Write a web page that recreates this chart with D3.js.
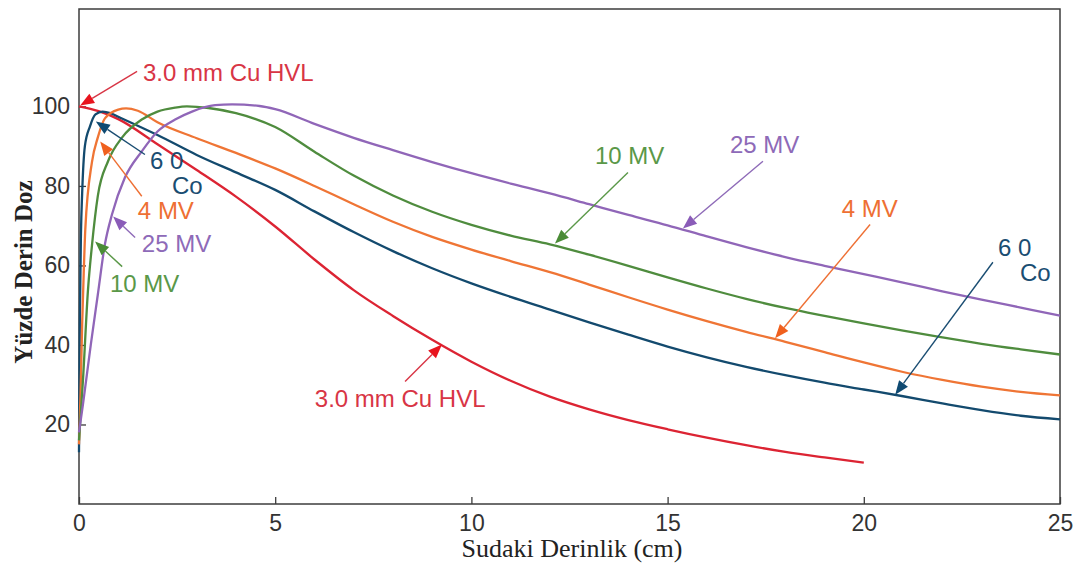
<!DOCTYPE html>
<html>
<head>
<meta charset="utf-8">
<script src="https://cdn.jsdelivr.net/npm/d3@7"></script>
<style>
  body { margin: 0; background: #fff; }
  svg { display: block; }
</style>
</head>
<body>
<svg id="chart"></svg>
<script>
// depth (cm), percent depth dose
const cuHvl = [[0,100],[0.5,98.8],[1,96.8],[2,90.5],[3,84],[4,77.3],[5,69.8],[6,61.5],[7,53.8],[8,47.3],[9,41.3],[10,35.8],[11,31],[12,27],[13,23.8],[14,21.1],[15,18.8],[16,16.7],[17,14.8],[18,13.1],[19,11.7],[20,10.4]];
const cobalt = [[0,13],[0.02,45],[0.05,68],[0.08,78],[0.15,90],[0.28,95],[0.42,98],[0.6,98.7],[0.8,98.3],[1,97.4],[2,92.8],[3,87.8],[4,83.4],[5,79],[6,73.6],[7,68.4],[8,63.6],[9,59.3],[10,55.5],[11,52.1],[12,48.9],[13,45.7],[14,42.6],[15,39.6],[16,36.9],[17,34.5],[18,32.4],[19,30.5],[20,28.8],[21,27.1],[22,25.3],[23,23.6],[24,22.2],[25,21.3]];
const mv4 = [[0,15],[0.04,28],[0.08,45],[0.12,58],[0.16,69],[0.33,86],[0.48,92.2],[0.66,97],[1,99.2],[1.2,99.5],[1.5,98.9],[2,96],[3,92],[4,88.3],[5,84.4],[6,80],[7,75.4],[8,71],[9,67.2],[10,64],[11,61.1],[12,58.3],[13,55.2],[14,52],[15,48.9],[16,46],[17,43.3],[18,40.8],[19,38.2],[20,35.6],[21,33.2],[22,31.2],[23,29.5],[24,28.2],[25,27.3]];
const mv10 = [[0,16],[0.1,31],[0.23,54],[0.33,65],[0.48,77.5],[0.74,86.2],[1.1,92.2],[1.6,96.7],[2,98.7],[2.45,99.7],[2.75,100],[3.3,99.6],[4,98.3],[5,94.8],[6,88.6],[7,82.6],[8,77.6],[9,73.5],[10,70.2],[11,67.5],[12,65.3],[13,62.7],[14,59.9],[15,57],[16,54.2],[17,51.6],[18,49.3],[19,47.3],[20,45.4],[21,43.6],[22,41.9],[23,40.3],[24,38.9],[25,37.6]];
const mv25 = [[0,18],[0.1,25],[0.3,40],[0.48,52.7],[0.66,65.3],[0.84,72.8],[1.17,82.1],[1.6,88.7],[2,93.7],[2.45,96.7],[2.88,98.7],[3.47,100.3],[3.9,100.5],[4.6,100.1],[5,99.3],[6,95.6],[7,92.1],[8,89],[9,86],[10,83.2],[11,80.6],[12,78.1],[13,75.4],[14,72.7],[15,70.1],[16,67.3],[17,64.6],[18,62.1],[19,59.9],[20,57.8],[21,55.7],[22,53.5],[23,51.4],[24,49.4],[25,47.4]];

const depthTicks = [0, 5, 10, 15, 20, 25];
const doseTicks = [20, 40, 60, 80, 100];

const series = [
  {key: "hvl", values: cuHvl},
  {key: "co", values: cobalt},
  {key: "mv4", values: mv4},
  {key: "mv10", values: mv10},
  {key: "mv25", values: mv25}
];

// labels and arrows, placed in data units (depth, dose)
const notes = [
  {key: "hvl", labels: [{t: "3.0 mm Cu HVL", at: [1.63, 106.4]}], tail: [1.48, 108.8], tip: [0.03, 100.2]},
  {key: "co", labels: [{t: "6 0", at: [1.81, 84.2]}, {t: "Co", at: [2.37, 77.9]}], tail: [1.68, 87.9], tip: [0.43, 96.2]},
  {key: "mv4", labels: [{t: "4 MV", at: [1.5, 71.6]}], tail: [1.6, 77.4], tip: [0.54, 91.2]},
  {key: "mv25", labels: [{t: "25 MV", at: [1.6, 63.3]}], tail: [1.43, 67], tip: [0.87, 72.3]},
  {key: "mv10", labels: [{t: "10 MV", at: [0.79, 53.2]}], tail: [1.1, 59.7], tip: [0.41, 66]},
  {key: "mv10", labels: [{t: "10 MV", at: [13.15, 85.4]}], tail: [13.99, 83.4], tip: [12.13, 65.5]},
  {key: "mv25", labels: [{t: "25 MV", at: [16.59, 88.4]}], tail: [17.43, 86.2], tip: [15.39, 69.3]},
  {key: "mv4", labels: [{t: "4 MV", at: [19.44, 72.1]}], tail: [20.16, 70.3], tip: [17.74, 41.7]},
  {key: "co", labels: [{t: "6 0", at: [23.42, 62.3]}, {t: "Co", at: [23.98, 56]}], tail: [23.29, 60.8], tip: [20.8, 27.5]},
  {key: "hvl", labels: [{t: "3.0 mm Cu HVL", at: [6.01, 24.3]}], tail: [8.31, 30.8], tip: [9.25, 40.1]}
];

const lineColor = {hvl: "#dc2433", co: "#134a6e", mv4: "#ef7535", mv10: "#4f8c3e", mv25: "#9066b8"};
const textColor = {hvl: "#d83545", co: "#1a4d72", mv4: "#ee6f33", mv10: "#5a9848", mv25: "#8e6ab8"};
const headColor = {hvl: "#e8141e", co: "#0f4a72", mv4: "#f0601e", mv10: "#4a8c36", mv25: "#8a5cb8"};

const width = 1082, height = 567;
const margin = {left: 79, right: 1060, top: 9, bottom: 504};

const svg = d3.select("#chart")
    .attr("width", width)
    .attr("height", height)
    .style("font-family", "'Liberation Sans', Arial, sans-serif");

svg.append("rect").attr("width", width).attr("height", height).attr("fill", "#fff");

const x = d3.scaleLinear().domain([0, 25]).range([margin.left, margin.right]);
const y = d3.scaleLinear().domain([0, 124.5]).range([margin.bottom, margin.top]);

// frame
svg.append("rect")
    .attr("x", margin.left).attr("y", margin.top)
    .attr("width", margin.right - margin.left).attr("height", margin.bottom - margin.top)
    .attr("fill", "none")
    .attr("stroke", "#3c3c3c")
    .attr("stroke-width", 1.5);

svg.append("g")
    .attr("transform", `translate(0,${margin.bottom})`)
    .call(d3.axisBottom(x).tickValues(depthTicks).tickSizeInner(-7).tickSizeOuter(0).tickPadding(11))
    .call(g => g.select(".domain").remove())
    .call(g => g.selectAll(".tick line").attr("stroke", "#3c3c3c").attr("stroke-width", 1.3))
    .call(g => g.selectAll(".tick text").attr("fill", "#333").style("font-size", "23px")
        .style("font-family", "'Liberation Sans', Arial, sans-serif"));

svg.append("g")
    .attr("transform", `translate(${margin.left},0)`)
    .call(d3.axisLeft(y).tickValues(doseTicks).tickSizeInner(-7).tickSizeOuter(0).tickPadding(9))
    .call(g => g.select(".domain").remove())
    .call(g => g.selectAll(".tick line").attr("stroke", "#3c3c3c").attr("stroke-width", 1.3))
    .call(g => g.selectAll(".tick text").attr("fill", "#333").style("font-size", "23px")
        .style("font-family", "'Liberation Sans', Arial, sans-serif"));

// axis titles
svg.append("text")
    .attr("x", 572).attr("y", 557)
    .attr("text-anchor", "middle")
    .style("font-family", "'Liberation Serif', 'Times New Roman', serif")
    .style("font-size", "26px")
    .attr("fill", "#222")
    .text("Sudaki Derinlik (cm)");

svg.append("text")
    .attr("transform", "translate(32,272) rotate(-90)")
    .attr("text-anchor", "middle")
    .style("font-family", "'Liberation Serif', 'Times New Roman', serif")
    .style("font-size", "25px")
    .style("font-weight", "bold")
    .attr("fill", "#222")
    .text("Yüzde Derin Doz");

// curves
const line = d3.line()
    .x(d => x(d[0]))
    .y(d => y(d[1]))
    .curve(d3.curveMonotoneX);

svg.append("g")
    .selectAll("path")
    .data(series)
    .join("path")
      .attr("fill", "none")
      .attr("stroke", d => lineColor[d.key])
      .attr("stroke-width", 2.3)
      .attr("stroke-linejoin", "round")
      .attr("d", d => line(d.values));

// annotations
const ann = svg.append("g");

notes.forEach(n => {
  const x1 = x(n.tail[0]), y1 = y(n.tail[1]);
  const x2 = x(n.tip[0]), y2 = y(n.tip[1]);
  const a = Math.atan2(y2 - y1, x2 - x1);
  const L = 14, W = 5.5;
  const bx = x2 - L * Math.cos(a), by = y2 - L * Math.sin(a);

  ann.append("line")
      .attr("x1", x1).attr("y1", y1)
      .attr("x2", bx).attr("y2", by)
      .attr("stroke", textColor[n.key])
      .attr("stroke-width", 1.4);

  ann.append("path")
      .attr("d", `M${x2},${y2}L${bx + W * Math.sin(a)},${by - W * Math.cos(a)}L${bx - W * Math.sin(a)},${by + W * Math.cos(a)}Z`)
      .attr("fill", headColor[n.key]);

  n.labels.forEach(l => {
    ann.append("text")
        .attr("x", x(l.at[0]))
        .attr("y", y(l.at[1]))
        .attr("fill", textColor[n.key])
        .style("font-size", "24px")
        .text(l.t);
  });
});
</script>
</body>
</html>
